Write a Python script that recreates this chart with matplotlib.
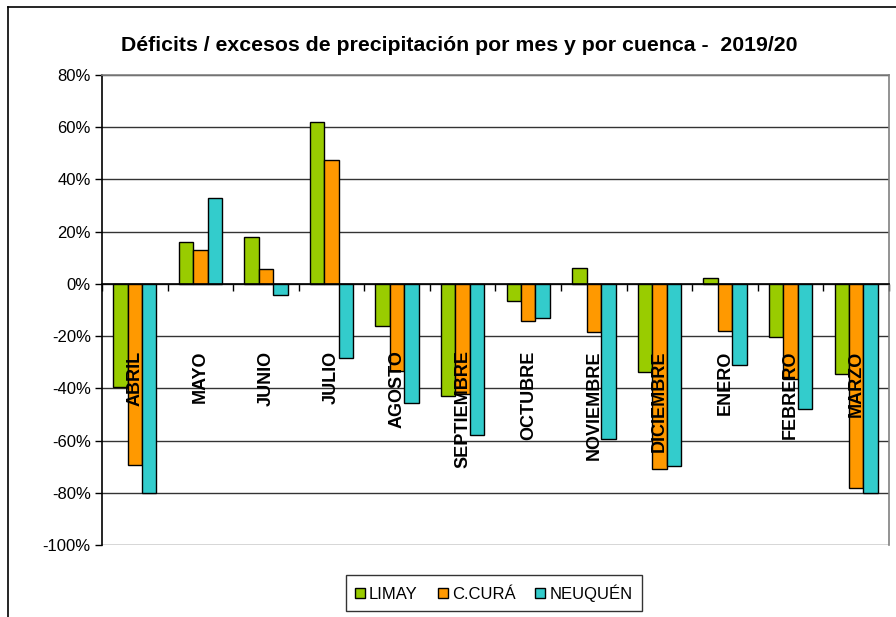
import matplotlib

matplotlib.use("Agg")
import matplotlib.pyplot as plt
import numpy as np
from matplotlib.lines import Line2D
from matplotlib.ticker import FuncFormatter

plt.rcParams["font.family"] = ["Liberation Sans", "DejaVu Sans"]

months = ["ABRIL", "MAYO", "JUNIO", "JULIO", "AGOSTO", "SEPTIEMBRE",
          "OCTUBRE", "NOVIEMBRE", "DICIEMBRE", "ENERO", "FEBRERO", "MARZO"]
limay = [-39.5, 16.2, 18.0, 62.0, -16.1, -42.9, -6.5, 6.2, -33.9, 2.4, -20.4, -34.4]
ccura = [-69.5, 12.9, 5.6, 47.6, -33.5, -42.0, -14.4, -18.6, -70.8, -17.9, -36.5, -78.0]
neuquen = [-80.1, 33.0, -4.3, -28.3, -45.7, -57.8, -13.1, -59.3, -69.7, -31.1, -47.8, -80.1]
series_names = ["LIMAY", "C.CURÁ", "NEUQUÉN"]
colors = ["#99CC00", "#FF9900", "#33CCCC"]

fig = plt.figure(figsize=(8.96, 6.17), dpi=100)
ax = fig.add_axes([0.1138, 0.1167, 0.8784, 0.7617])

x = np.arange(len(months))
w = 0.22
for i, (vals, name, c) in enumerate(zip([limay, ccura, neuquen], series_names, colors)):
    ax.bar(x + (i - 1) * w, vals, width=w, color=c, edgecolor="black",
           linewidth=1.0, label=name, zorder=3)

ax.set_xlim(-0.5, len(months) - 0.5)
ax.set_ylim(-100, 80)
ax.set_yticks(np.arange(-100, 81, 20))
ax.yaxis.set_major_formatter(FuncFormatter(lambda v, _: f"{v:.0f}%"))
ax.tick_params(axis="y", direction="out", length=5, width=1, labelsize=12,
               pad=3)

ax.grid(axis="y", color="#333333", linewidth=1.0, zorder=1)
ax.set_axisbelow(True)

# category axis sits on the zero line
ax.spines["bottom"].set_position(("data", 0))
ax.spines["bottom"].set_linewidth(1.2)
ax.spines["bottom"].set_zorder(4)
ax.set_xticks(np.arange(-0.5, len(months), 1.0))
ax.set_xticklabels([])
ax.tick_params(axis="x", direction="out", length=5, width=1)
ax.spines["left"].set_linewidth(1.2)
for side in ("top", "right"):
    ax.spines[side].set_color("#808080")
    ax.spines[side].set_linewidth(1.2)

for xi, m in zip(x, months):
    ax.text(xi, -25.5, m, rotation=90, ha="center", va="top",
            fontsize=13, fontweight="bold", zorder=5)

fig.text(0.512, 0.927,
         "Déficits / excesos de precipitación por mes y por cuenca -  2019/20",
         ha="center", va="center", fontsize=15.3, fontweight="bold")

leg = fig.legend(loc="center", bbox_to_anchor=(0.551, 0.039), ncol=3,
                 frameon=True, fancybox=False, edgecolor="black",
                 fontsize=12, handlelength=0.6, handleheight=0.6,
                 handletextpad=0.25, columnspacing=1.2, borderpad=0.55)
leg.get_frame().set_linewidth(1.0)

# outer chart frame (left and top edges)
fig.add_artist(Line2D([0.009, 0.009], [0.0, 0.989], transform=fig.transFigure,
                      color="black", linewidth=1.2))
fig.add_artist(Line2D([0.009, 1.0], [0.989, 0.989], transform=fig.transFigure,
                      color="black", linewidth=1.2))

fig.savefig("out.png", dpi=100)
